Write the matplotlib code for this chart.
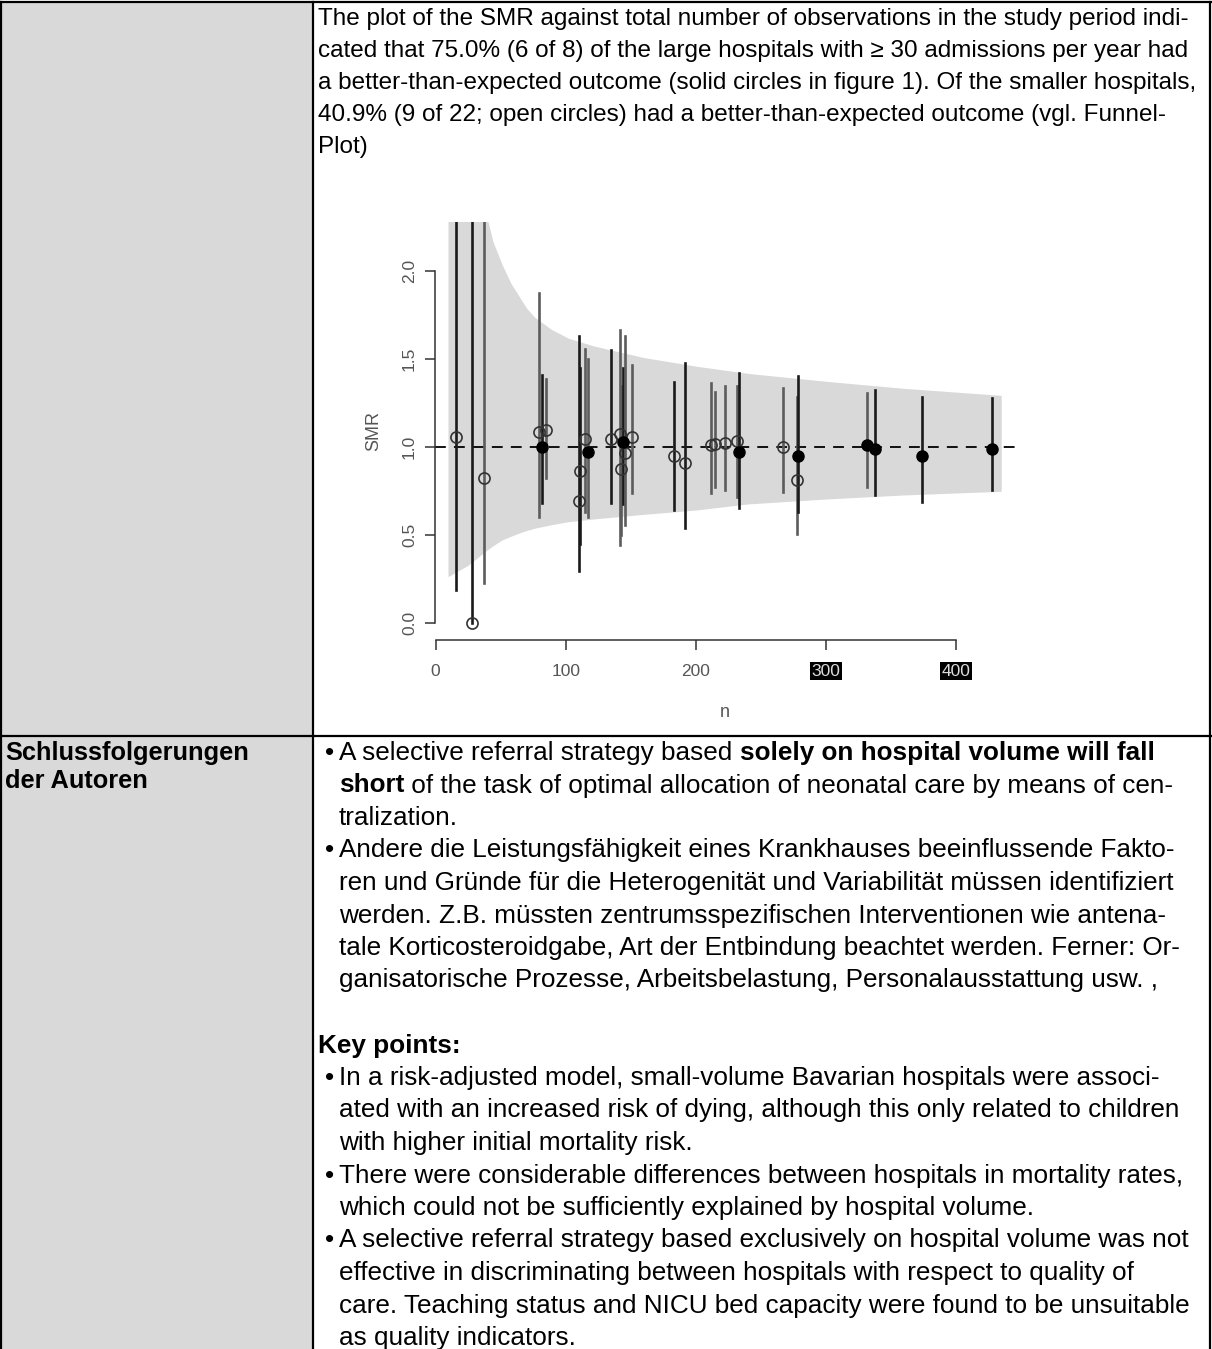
import matplotlib
matplotlib.use('Agg')
import matplotlib.pyplot as plt

plt.rcParams['font.family'] = ['Liberation Sans', 'DejaVu Sans']

# hospital data: n, SMR, CI low, CI high
n_obs = [15.6, 27.7, 36.9, 79.7, 82.0, 84.8, 110.5, 111.0, 114.8, 117.4,
         134.8, 142.0, 142.5, 144.0, 146.0, 151.0, 183.5, 191.8, 211.8, 214.8,
         222.5, 232.0, 233.0, 267.0, 277.7, 279.0, 332.0, 337.9, 374.3, 428.2]
smr = [1.057, 0.0, 0.824, 1.089, 1.003, 1.098, 0.697, 0.865, 1.047, 0.975,
       1.047, 1.074, 0.877, 1.03, 0.966, 1.057, 0.952, 0.909, 1.013, 1.02,
       1.023, 1.036, 0.975, 1.003, 0.814, 0.952, 1.013, 0.989, 0.952, 0.99]
ci_low = [0.19, 0.0, 0.227, 0.606, 0.683, 0.824, 0.297, 0.45, 0.63, 0.606,
          0.682, 0.445, 0.5, 0.68, 0.558, 0.739, 0.644, 0.543, 0.739, 0.776,
          0.757, 0.72, 0.657, 0.744, 0.505, 0.634, 0.776, 0.729, 0.691, 0.757]
ci_high = [3.0, 3.0, 3.0, 1.875, 1.41, 1.39, 1.63, 1.45, 1.56, 1.50,
           1.553, 1.667, 1.35, 1.45, 1.63, 1.47, 1.373, 1.477, 1.364, 1.316,
           1.35, 1.35, 1.42, 1.335, 1.288, 1.405, 1.307, 1.326, 1.288, 1.278]
# large hospital (solid circle) or small one (open circle)
large = [0, 0, 0, 0, 1, 0, 0, 0, 0, 1,
         0, 0, 0, 1, 0, 0, 0, 0, 0, 0,
         0, 0, 1, 0, 0, 1, 1, 1, 1, 1]
dark_bar = [1, 1, 0, 0, 1, 0, 1, 1, 0, 0,
            1, 0, 0, 1, 0, 0, 1, 1, 0, 0,
            0, 0, 1, 0, 0, 1, 0, 1, 1, 1]

# funnel limits
funnel_n = [9.5, 25, 38, 44, 51, 58, 64, 70, 76, 89, 102, 122, 160, 201, 240, 300, 360, 435]
funnel_hi = [2.6, 2.5, 2.35, 2.17, 2.04, 1.93, 1.86, 1.79, 1.74, 1.67, 1.62, 1.575, 1.51, 1.46,
             1.42, 1.375, 1.335, 1.295]
funnel_lo = [0.265, 0.33, 0.407, 0.44, 0.473, 0.495, 0.512, 0.527, 0.54, 0.56, 0.577, 0.593,
             0.619, 0.644, 0.678, 0.706, 0.729, 0.75]

x_ticks = [0, 100, 200, 300, 400]
y_ticks = [0.0, 0.5, 1.0, 1.5, 2.0]

intro_lines = [
    "The plot of the SMR against total number of observations in the study period indi-",
    "cated that 75.0% (6 of 8) of the large hospitals with \u2265 30 admissions per year had",
    "a better-than-expected outcome (solid circles in figure 1). Of the smaller hospitals,",
    "40.9% (9 of 22; open circles) had a better-than-expected outcome (vgl. Funnel-",
    "Plot)",
]
left_label = ["Schlussfolgerungen", "der Autoren"]
# each line: (bullet?, [(text, bold), ...])
concl_lines = [
    (True, [("A selective referral strategy based ", False), ("solely on hospital volume will fall", True)]),
    (False, [("short", True), (" of the task of optimal allocation of neonatal care by means of cen-", False)]),
    (False, [("tralization.", False)]),
    (True, [("Andere die Leistungsf\u00e4higkeit eines Krankhauses beeinflussende Fakto-", False)]),
    (False, [("ren und Gr\u00fcnde f\u00fcr die Heterogenit\u00e4t und Variabilit\u00e4t m\u00fcssen identifiziert", False)]),
    (False, [("werden. Z.B. m\u00fcssten zentrumsspezifischen Interventionen wie antena-", False)]),
    (False, [("tale Korticosteroidgabe, Art der Entbindung beachtet werden. Ferner: Or-", False)]),
    (False, [("ganisatorische Prozesse, Arbeitsbelastung, Personalausstattung usw. ,", False)]),
]
key_lines = [
    (True, "In a risk-adjusted model, small-volume Bavarian hospitals were associ-"),
    (False, "ated with an increased risk of dying, although this only related to children"),
    (False, "with higher initial mortality risk."),
    (True, "There were considerable differences between hospitals in mortality rates,"),
    (False, "which could not be sufficiently explained by hospital volume."),
    (True, "A selective referral strategy based exclusively on hospital volume was not"),
    (False, "effective in discriminating between hospitals with respect to quality of"),
    (False, "care. Teaching status and NICU bed capacity were found to be unsuitable"),
    (False, "as quality indicators."),
]

W, H = 1212, 1349
fig = plt.figure(figsize=(W / 100, H / 100), dpi=100)

# page layer in pixel coordinates
page = fig.add_axes([0, 0, 1, 1])
page.set_xlim(0, W)
page.set_ylim(H, 0)
page.axis('off')
page.fill_between([2, 313], 2, H, color='#d9d9d9', lw=0)
page.plot([0, W], [2, 2], color='black', lw=1.6)
page.plot([1, 1], [2, H], color='black', lw=1.6)
page.plot([313, 313], [2, H], color='black', lw=1.6)
page.plot([1210, 1210], [2, H], color='black', lw=1.6)
page.plot([0, W], [736, 736], color='black', lw=1.6)

fs1 = 17.5
lh1 = 32
for i, line in enumerate(intro_lines):
    page.text(318, 19 + i * lh1, line, fontsize=fs1, va='center', ha='left')

fs2 = 18.8
lh2 = 32.5
for i, line in enumerate(left_label):
    page.text(5, 753 + i * 28, line, fontsize=18.3, fontweight='bold', va='center')

fig.canvas.draw()
renderer = fig.canvas.get_renderer()


def draw_runs(x, y, runs):
    for txt, bold in runs:
        t = page.text(x, y, txt, fontsize=fs2, va='center', ha='left',
                      fontweight='bold' if bold else 'normal')
        bb = t.get_window_extent(renderer)
        x += bb.width


y = 753
for bullet, runs in concl_lines:
    if bullet:
        page.text(325, y, "\u2022", fontsize=fs2, va='center')
    draw_runs(339, y, runs)
    y += lh2
y += lh2
page.text(318, y, "Key points:", fontsize=fs2, fontweight='bold', va='center')
y += lh2
for bullet, txt in key_lines:
    if bullet:
        page.text(325, y, "\u2022", fontsize=fs2, va='center')
    page.text(339, y, txt, fontsize=fs2, va='center')
    y += lh2

# funnel plot
ax = fig.add_axes([435 / W, 1 - 640 / H, (1015 - 435) / W, (640 - 222) / H])
ax.set_xlim(-0.5, 445.6)
ax.set_ylim(-0.095, 2.28)
ax.patch.set_alpha(0)
ax.fill_between(funnel_n, funnel_lo, funnel_hi, color='#d9d9d9', lw=0, zorder=0)
ax.axhline(1.0, color='black', lw=1.3, ls=(0, (6, 4.5)), zorder=1)

for i in range(len(n_obs)):
    col = '#1a1a1a' if dark_bar[i] else '#5c5c5c'
    ax.plot([n_obs[i], n_obs[i]], [ci_low[i], ci_high[i]], color=col, lw=1.9, zorder=2)
for i in range(len(n_obs)):
    if large[i]:
        ax.plot(n_obs[i], smr[i], 'o', ms=8, mfc='black', mec='black', zorder=4)
    else:
        ax.plot(n_obs[i], smr[i], 'o', ms=8, mfc='none', mec='#333333', mew=1.2, zorder=3)

for s in ['top', 'right']:
    ax.spines[s].set_visible(False)
ax.spines['left'].set_bounds(0, 2)
ax.spines['bottom'].set_bounds(0, 400)
for s in ['left', 'bottom']:
    ax.spines[s].set_color('#333333')
    ax.spines[s].set_linewidth(1.1)
ax.set_xticks(x_ticks)
ax.set_yticks(y_ticks)
ax.set_yticklabels([f"{v:.1f}" for v in y_ticks], rotation=90, va='center')
ax.tick_params(axis='both', length=7, width=1.1, color='#333333',
               labelcolor='#555555', labelsize=12.5)
ax.tick_params(axis='y', pad=6)
ax.tick_params(axis='x', pad=10)
for lab in ax.get_xticklabels()[3:]:
    lab.set_color('#dddddd')
    lab.set_bbox(dict(facecolor='black', edgecolor='none', pad=1))
ax.set_xlabel("n", fontsize=13, color='#555555', labelpad=18)
ax.set_ylabel("SMR", fontsize=13, color='#555555', labelpad=14)

fig.savefig('out.png', dpi=100)
